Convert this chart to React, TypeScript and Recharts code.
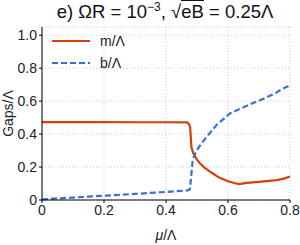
import React from 'react';
import {
  LineChart,
  Line,
  XAxis,
  YAxis,
  CartesianGrid,
  Legend,
} from 'recharts';

// m/Λ curve
const muM = [0, 0.1, 0.2, 0.3, 0.4, 0.469, 0.475, 0.478, 0.48, 0.482, 0.488, 0.5, 0.51, 0.525, 0.542, 0.56, 0.575, 0.6, 0.62, 0.636, 0.66, 0.7, 0.757, 0.78, 0.8];
const mVals = [0.473, 0.473, 0.473, 0.472, 0.472, 0.471, 0.458, 0.44, 0.38, 0.32, 0.283, 0.245, 0.222, 0.195, 0.172, 0.15, 0.133, 0.114, 0.103, 0.097, 0.104, 0.11, 0.121, 0.13, 0.143];

// b/Λ curve
const muB = [0, 0.1, 0.2, 0.3, 0.4, 0.47, 0.477, 0.48, 0.483, 0.486, 0.492, 0.499, 0.515, 0.531, 0.563, 0.606, 0.64, 0.703, 0.75, 0.778, 0.8];
const bVals = [0.004, 0.015, 0.026, 0.037, 0.049, 0.058, 0.065, 0.12, 0.18, 0.24, 0.275, 0.3, 0.345, 0.383, 0.455, 0.525, 0.555, 0.606, 0.645, 0.677, 0.697];

const xTicks = [0, 0.2, 0.4, 0.6, 0.8];
const yTicks = [0, 0.2, 0.4, 0.6, 0.8, 1.0];

const mData = muM.map((mu, i) => ({ mu, v: mVals[i] }));
const bData = muB.map((mu, i) => ({ mu, v: bVals[i] }));

const RED = '#D2400E';
const BLUE = '#3B6FD6';
const FONT = '"Liberation Sans", Arial, sans-serif';

const fmt = (v: number) => (v === 0 ? '0' : v.toFixed(1));

function LegendBox() {
  return (
    <svg width={90} height={45} style={{ display: 'block' }}>
      <line x1={10} x2={48} y1={12} y2={12} stroke={RED} strokeWidth={2.2} />
      <text x={58} y={17} fontSize={14} fontFamily={FONT} fill="#222">m/Λ</text>
      <line x1={10} x2={48} y1={34} y2={34} stroke={BLUE} strokeWidth={2.2} strokeDasharray="6 3" />
      <text x={58} y={39} fontSize={14} fontFamily={FONT} fill="#222">b/Λ</text>
    </svg>
  );
}

function XLabel(props: any) {
  const { viewBox } = props;
  const cx = viewBox.x + viewBox.width / 2;
  const y = viewBox.y + viewBox.height + 10;
  return (
    <text x={cx} y={y} textAnchor="middle" fontSize={14} fontFamily={FONT} fill="#222">
      <tspan fontStyle="italic">μ</tspan>/Λ
    </text>
  );
}

export default function App() {
  return (
    <div style={{ position: 'absolute', left: 0, top: 0, width: 300, height: 245, background: '#fff', fontFamily: FONT }}>
      <div
        style={{
          position: 'absolute',
          top: 0,
          left: 0,
          width: 300,
          paddingLeft: 30,
          boxSizing: 'border-box',
          textAlign: 'center',
          fontSize: 18.5,
          color: '#111',
          whiteSpace: 'nowrap',
        }}
      >
        e) ΩR = 10<sup style={{ fontSize: 12 }}>−3</sup>, √<span style={{ borderTop: '1px solid #111' }}>eB</span> = 0.25Λ
      </div>
      <LineChart width={300} height={245} margin={{ top: 27, right: 10, bottom: 15, left: 12 }}>
        <CartesianGrid stroke="#ccc" strokeDasharray="1 2" />
        <XAxis
          dataKey="mu"
          type="number"
          domain={[0, 0.8]}
          ticks={xTicks}
          tickFormatter={fmt}
          allowDuplicatedCategory={false}
          height={30}
          stroke="#000"
          tickSize={3}
          tick={{ fill: '#222', fontSize: 14, fontFamily: FONT }}
          label={<XLabel />}
        />
        <XAxis xAxisId="top" orientation="top" type="number" domain={[0, 0.8]} tick={false} tickLine={false} height={0} stroke="#000" />
        <YAxis
          type="number"
          domain={[0, 1.05]}
          ticks={yTicks}
          tickFormatter={fmt}
          width={30}
          stroke="#000"
          tickSize={3}
          tick={{ fill: '#222', fontSize: 14, fontFamily: FONT }}
          label={{ value: 'Gaps/Λ', angle: -90, position: 'insideLeft', offset: -4, fill: '#222', fontSize: 14, fontFamily: FONT, style: { textAnchor: 'middle' } }}
        />
        <YAxis yAxisId="right" orientation="right" domain={[0, 1.05]} tick={false} tickLine={false} width={0} stroke="#000" />
        <Legend
          layout="horizontal"
          verticalAlign="middle"
          align="center"
          wrapperStyle={{ top: 29, left: 42, width: 90 }}
          content={() => <LegendBox />}
        />
        <Line data={mData} dataKey="v" type="linear" stroke={RED} strokeWidth={2.2} dot={false} isAnimationActive={false} name="m/Λ" />
        <Line data={bData} dataKey="v" type="linear" stroke={BLUE} strokeWidth={2.2} strokeDasharray="6 3" dot={false} isAnimationActive={false} name="b/Λ" />
      </LineChart>
    </div>
  );
}
